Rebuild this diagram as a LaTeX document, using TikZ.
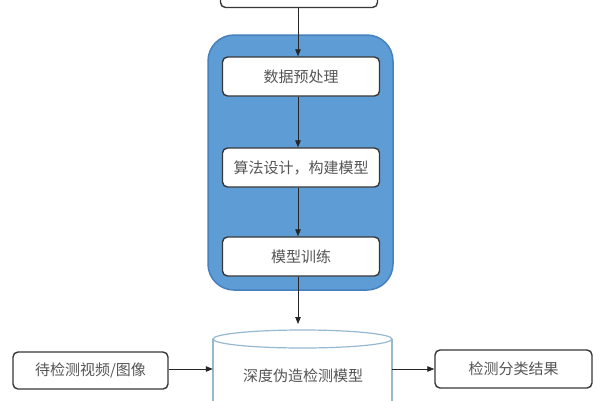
\documentclass[tikz,border=0pt]{standalone}
\usepackage{fontspec}
\newfontfamily\cjk{Noto Sans CJK SC}
\usetikzlibrary{arrows.meta}
\definecolor{contblue}{RGB}{94,156,214}
\definecolor{contedge}{RGB}{70,128,190}
\definecolor{boxedge}{RGB}{55,55,55}
\definecolor{txtgray}{RGB}{85,85,85}
\definecolor{cyledge}{RGB}{150,185,208}
\tikzset{
  stepbox/.style={draw=boxedge, line width=1.4pt, fill=white, rounded corners=5pt,
    minimum width=157pt, minimum height=39pt, inner sep=0pt,
    font=\cjk\fontsize{15}{15}\selectfont, text=txtgray},
  flow/.style={draw=black!85, line width=0.8pt, -{Triangle[length=7pt,width=5.5pt]}}
}
\begin{document}
\begin{tikzpicture}[x=1pt,y=-1pt]
\clip (0,0) rectangle (600,400);
\fill[white] (0,0) rectangle (600,400);
% container
\draw[fill=contblue, draw=contedge, line width=1.5pt, rounded corners=26pt] (208,35) rectangle (393,290);
% boxes
\node[stepbox] (top) at (299,-12) {};
\node[stepbox] (b1) at (301,76.5) {数据预处理};
\node[stepbox] (b2) at (301,167.5) {算法设计，构建模型};
\node[stepbox] (b3) at (301,256.5) {模型训练};
\node[stepbox, minimum width=155pt, minimum height=37pt] (in) at (90.5,370.5) {待检测视频/图像};
\node[stepbox, minimum width=157pt, minimum height=38pt] (out) at (513.5,369) {检测分类结果};
% cylinder
\draw[draw=cyledge, line width=1.2pt, fill=white] (213,339) -- (213,420) -- (392,420) -- (392,339);
\draw[draw=cyledge, line width=1.2pt, fill=white] (302.5,339) ellipse [x radius=89.5, y radius=9];
\node[minimum width=179pt, minimum height=90pt, inner sep=0pt, anchor=north] (cyl) at (302.5,330) {};
\node[font=\cjk\fontsize{15}{15}\selectfont, text=txtgray] (cyltxt) at (303,376) {深度伪造检测模型};
% connectors
\draw[flow] (top.south -| b1.north) ++(-3,0) coordinate (t0) -- (t0 |- b1.north);
\draw[flow] ([xshift=-3pt]b1.south) -- ([xshift=-3pt]b2.north);
\draw[flow] ([xshift=-3pt]b2.south) -- ([xshift=-3pt]b3.north);
\draw[flow, shorten >=6pt] ([xshift=-3pt]b3.south) -- ([xshift=-4.5pt]cyl.north);
\draw[flow] (in.east |- 0,369) coordinate (i0) -- (i0 -| cyl.west);
\draw[flow] (cyl.east |- 0,369) coordinate (o0) -- (o0 -| out.west);
\end{tikzpicture}
\end{document}
